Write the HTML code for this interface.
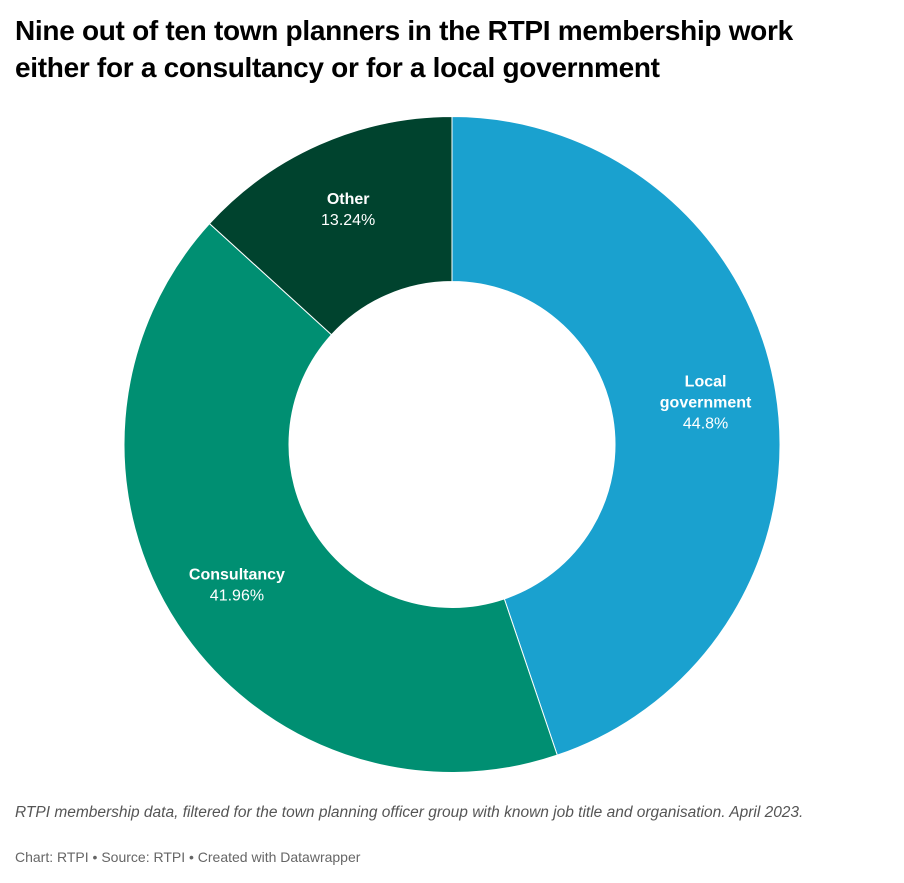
<!DOCTYPE html>
<html><head><meta charset="utf-8"><style>
body{margin:0;background:#fff;width:904px;height:883px;overflow:hidden;font-family:"Liberation Sans",Arial,sans-serif}
h1{position:absolute;left:15px;top:12px;margin:0;font-size:28px;line-height:37px;font-weight:bold;color:#000;letter-spacing:-0.3px}
.note{position:absolute;left:15px;top:802px;font-size:15.5px;font-style:italic;color:#555;line-height:21px;width:860px}
.cred{position:absolute;left:15px;top:849px;font-size:14px;color:#666}
</style></head><body>
<h1>Nine out of ten town planners in the RTPI membership work<br>either for a consultancy or for a local government</h1>
<svg id="chart" width="904" height="883" style="position:absolute;left:0;top:0"></svg>
<div class="note">RTPI membership data, filtered for the town planning officer group with known job title and organisation. April 2023.</div>
<div class="cred">Chart: RTPI • Source: RTPI • Created with Datawrapper</div>
<script>
const categories=["Local government","Consultancy","Other"];
const values=[44.8,41.96,13.24];
const valueLabels=["44.8%","41.96%","13.24%"];
const colors=["#1aa1cf","#008f72","#00432e"];
const labelLines=[["Local","government"],["Consultancy"],["Other"]];
const svg=document.getElementById('chart');
const NS="http://www.w3.org/2000/svg";
const cx=452,cy=444.5,R=328,r=163,LR=257;
const total=values.reduce((a,b)=>a+b,0);
function pt(rad,a){return [cx+rad*Math.sin(a),cy-rad*Math.cos(a)];}
let start=0;
values.forEach((v,i)=>{
  const end=start+v/total*2*Math.PI;
  const large=(end-start)>Math.PI?1:0;
  const [x1,y1]=pt(R,start),[x2,y2]=pt(R,end),[x3,y3]=pt(r,end),[x4,y4]=pt(r,start);
  const p=document.createElementNS(NS,'path');
  p.setAttribute('d',`M${x1},${y1}A${R},${R} 0 ${large} 1 ${x2},${y2}L${x3},${y3}A${r},${r} 0 ${large} 0 ${x4},${y4}Z`);
  p.setAttribute('fill',colors[i]);p.setAttribute('stroke','#fff');p.setAttribute('stroke-width','1');
  
  
  svg.appendChild(p);
  const mid=(start+end)/2;
  const [lx,ly]=pt(LR,mid);
  const lines=labelLines[i];
  const n=lines.length+1;
  const t=document.createElementNS(NS,'text');
  t.setAttribute('text-anchor','middle');t.setAttribute('fill','#fff');t.setAttribute('font-size','16');
  
  
  const y0=ly-(n-1)*21/2+5;
  lines.forEach((s,j)=>{const ts=document.createElementNS(NS,'tspan');ts.setAttribute('x',lx);ts.setAttribute('y',y0+j*21);ts.setAttribute('font-weight','bold');ts.textContent=s;t.appendChild(ts);});
  const tv=document.createElementNS(NS,'tspan');tv.setAttribute('x',lx);tv.setAttribute('y',y0+lines.length*21);tv.textContent=valueLabels[i];t.appendChild(tv);
  svg.appendChild(t);
  start=end;
});
</script>
</body></html>
